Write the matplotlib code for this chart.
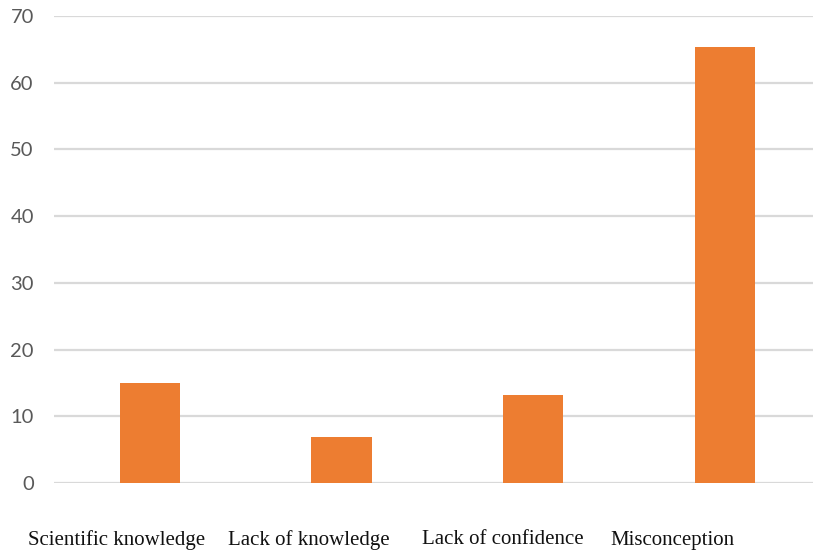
import matplotlib
matplotlib.use("Agg")
import matplotlib.pyplot as plt
from matplotlib.transforms import ScaledTranslation

categories = ["Scientific knowledge", "Lack of knowledge", "Lack of confidence", "Misconception"]
values = [15.0, 6.9, 13.2, 65.3]
y_ticks = [0, 10, 20, 30, 40, 50, 60, 70]

# horizontal shift (pixels) of each category label relative to its bar
label_shift_px = [-33, -33, -30, -53]

W, H, DPI = 813, 551, 100
fig = plt.figure(figsize=(W / DPI, H / DPI), dpi=DPI)
fig.patch.set_facecolor("white")

left, right = 54, 813
bottom, top = 551 - 483, 551 - 16
ax = fig.add_axes([left / W, bottom / H, (right - left) / W, (top - bottom) / H])

x = list(range(len(categories)))
ax.bar(x, values, width=0.315, color="#ED7D31", zorder=3)

step_px = 191.7
ax.set_xlim(-0.5, -0.5 + (right - left) / step_px)
ax.set_ylim(0, 70)

ax.set_yticks(y_ticks)
ax.set_yticklabels([str(t) for t in y_ticks], fontsize=14.5, color="#595959",
                   family=["Lato", "DejaVu Sans"])
ax.tick_params(axis="y", length=0, pad=14.5)
ax.yaxis.grid(True, color="#D9D9D9", linewidth=1.6, zorder=0)
ax.set_axisbelow(True)

ax.set_xticks([])
for xi, lab, dx in zip(x, categories, label_shift_px):
    tr = ax.get_xaxis_transform() + ScaledTranslation(dx / DPI, 0, fig.dpi_scale_trans)
    t = ax.text(xi, 0, lab, transform=tr, ha="center", va="center",
                fontsize=15, family="Liberation Serif", color="#111111",
                clip_on=False)
    t.set_y(-57 / (top - bottom))

for s in ax.spines.values():
    s.set_visible(False)

fig.savefig("out.png", dpi=DPI, facecolor="white")
